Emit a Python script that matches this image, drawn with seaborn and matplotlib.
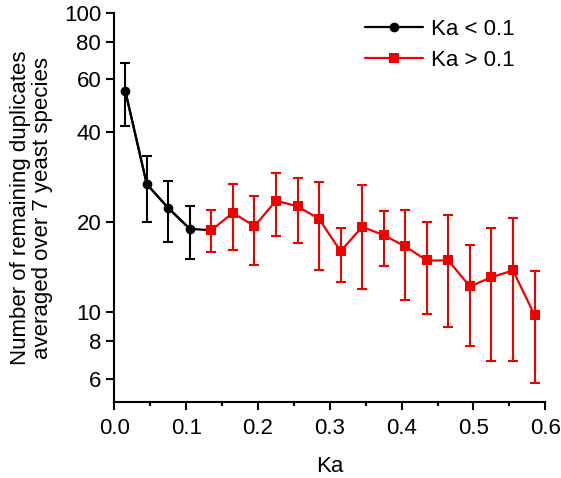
import numpy as np
import pandas as pd
import seaborn as sns
import matplotlib.pyplot as plt
from matplotlib.ticker import FixedLocator, NullLocator, MultipleLocator, FixedFormatter

# Ka bins, mean remaining duplicates and error bar ends
low_ka = [0.015, 0.045, 0.075, 0.105]
low_mean = [55.0, 26.8, 22.3, 19.0]
low_top = [68.0, 33.4, 27.5, 22.7]
low_bot = [42.0, 20.1, 17.2, 15.1]

high_ka = [0.135, 0.165, 0.195, 0.225, 0.255, 0.285, 0.315, 0.345,
           0.375, 0.405, 0.435, 0.465, 0.495, 0.525, 0.555, 0.585]
high_mean = [18.8, 21.5, 19.4, 23.6, 22.6, 20.5, 16.0, 19.3,
             18.1, 16.6, 14.9, 14.9, 12.2, 13.1, 13.8, 9.8]
high_top = [21.9, 26.8, 24.4, 29.1, 28.0, 27.2, 19.2, 26.6,
            21.8, 22.0, 20.1, 21.1, 16.8, 19.2, 20.6, 13.7]
high_bot = [15.9, 16.2, 14.4, 18.0, 17.1, 13.8, 12.6, 12.0,
            14.3, 11.0, 9.9, 8.9, 7.7, 6.9, 6.9, 5.8]

y_ticks = [6, 8, 10, 20, 40, 60, 80, 100]
x_ticks = [0.0, 0.1, 0.2, 0.3, 0.4, 0.5, 0.6]

sns.set_style("ticks", {"text.color": "black", "axes.labelcolor": "black",
                        "xtick.color": "black", "ytick.color": "black",
                        "axes.edgecolor": "black"})
plt.rcParams['font.family'] = ['Liberation Sans', 'DejaVu Sans']

df = pd.DataFrame({
    "Ka": low_ka + high_ka,
    "mean": low_mean + high_mean,
    "group": ["Ka < 0.1"] * len(low_ka) + ["Ka > 0.1"] * len(high_ka),
})
red = "#f20000"
palette = {"Ka < 0.1": "black", "Ka > 0.1": red}
fs = 16

fig, ax = plt.subplots(figsize=(5.61, 4.78), dpi=100)
fig.subplots_adjust(left=0.204, right=0.972, top=0.973, bottom=0.158)

# black connector into first red point
ax.plot(low_ka + high_ka[:1], low_mean + high_mean[:1], color="black", lw=1.6, zorder=2)

for lab, ka, m, t, b in [("Ka < 0.1", low_ka, low_mean, low_top, low_bot),
                         ("Ka > 0.1", high_ka, high_mean, high_top, high_bot)]:
    m = np.array(m)
    err = [m - np.array(b), np.array(t) - m]
    ax.errorbar(ka, m, yerr=err, fmt="none", ecolor=palette[lab], elinewidth=1.5,
                capsize=3.6, capthick=1.5, zorder=3)

sns.lineplot(data=df, x="Ka", y="mean", hue="group", style="group",
             palette=palette, markers={"Ka < 0.1": "o", "Ka > 0.1": "s"},
             dashes=False, markersize=7, markeredgewidth=0, linewidth=1.6,
             ax=ax, zorder=4)

ax.set_yscale("log")
ax.set_ylim(5, 100)
ax.set_xlim(0, 0.6)
ax.yaxis.set_major_locator(FixedLocator(y_ticks))
ax.yaxis.set_major_formatter(FixedFormatter([str(v) for v in y_ticks]))
ax.yaxis.set_minor_locator(NullLocator())
ax.xaxis.set_major_locator(FixedLocator(x_ticks))
ax.set_xticklabels([f"{v:.1f}" for v in x_ticks])
ax.xaxis.set_minor_locator(MultipleLocator(0.05))

ax.tick_params(axis="both", which="major", labelsize=fs, length=5.5, width=1.5,
               color="black", labelcolor="black")
ax.tick_params(axis="x", which="major", pad=6)
ax.tick_params(axis="y", which="major", pad=4)
ax.tick_params(axis="x", which="minor", length=3, width=1.5, color="black")
for s in ["left", "bottom"]:
    ax.spines[s].set_linewidth(1.5)
    ax.spines[s].set_color("black")
sns.despine(ax=ax)

ax.set_xlabel("Ka", fontsize=fs, labelpad=12, color="black")
ax.set_ylabel("Number of remaining duplicates\naveraged over 7 yeast species", fontsize=fs,
              labelpad=8, linespacing=1.05, color="black")

leg = ax.legend(loc="upper right", frameon=False, fontsize=fs, handlelength=2.6,
                bbox_to_anchor=(0.975, 1.035), labelspacing=0.45, handletextpad=0.35,
                labelcolor="black")

fig.savefig("out.png", dpi=100)
